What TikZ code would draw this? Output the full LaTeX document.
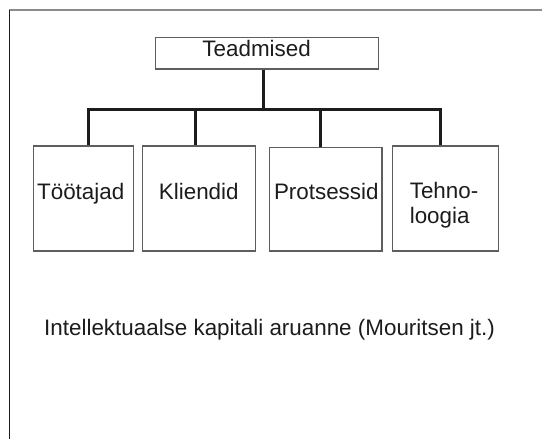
\documentclass[tikz,border=0pt]{standalone}
\usepackage{fontspec}
\setmainfont{Liberation Sans}
\definecolor{inkdark}{HTML}{1C1C1C}
\definecolor{boxline}{HTML}{5E5E5E}
\definecolor{framegray}{HTML}{8C8C8C}
\begin{document}
\begin{tikzpicture}[x=1pt,y=-1pt,
  unitbox/.style={draw=boxline,line width=1.2pt,inner sep=0pt,rectangle},
  label text/.style={inner sep=0pt,text=inkdark,font=\fontsize{22.4}{25}\selectfont},
  conn/.style={draw=inkdark,line width=3pt,line join=miter}]
  \useasboundingbox (0,0) rectangle (542,439);
  % page frame (top and left edges)
  \coordinate (fTL) at (9.3,10);
  \coordinate (fTR) at (542,10);
  \coordinate (fBL) at (9.3,439);
  \draw[framegray,line width=2pt] (fTL) -- (fTR);
  \draw[inkdark,line width=1pt] (fTL) -- (fBL);

  % boxes
  \node[unitbox,minimum width=223pt,minimum height=31.5pt] (top) at (267,53.25) {};
  \node[unitbox,minimum width=99.9pt,minimum height=105pt] (b1) at (83.15,198.5) {};
  \node[unitbox,minimum width=112.3pt,minimum height=105pt] (b2) at (198.95,198.5) {};
  \node[unitbox,minimum width=112.7pt,minimum height=103.7pt] (b3) at (325.65,199.15) {};
  \node[unitbox,minimum width=105.7pt,minimum height=105pt] (b4) at (445.55,198.5) {};

  % box texts
  \node[label text,anchor=base] (tTop) at (256.6,56.7) {Teadmised};
  \node[label text,anchor=base] (t1) at (80.7,199.3) {Töötajad};
  \node[label text,anchor=base] (t2) at (198.8,199.3) {Kliendid};
  \node[label text,anchor=base] (t3) at (326.3,199.3) {Protsessid};
  % two-line label: anchor sits on the baseline of the second line
  \node[label text,anchor=base west,align=left] (t4) at (409.6,223) {Tehno-\\loogia};

  % tree connectors
  \coordinate (hub) at (263.4,109);
  \coordinate (j1) at (88.8,109);
  \coordinate (j2) at (195.6,109);
  \coordinate (j3) at (320.8,109);
  \coordinate (j4) at (440.7,109);
  \draw[conn] (hub |- top.south) -- (hub);
  \draw[conn] (j1 |- b1.north) -- (j1) -- (j4) -- (j4 |- b4.north);
  \draw[conn] (j2) -- (j2 |- b2.north);
  \draw[conn] (j3) -- (j3 |- b3.north);

  % caption
  \node[label text,anchor=base west] (caption) at (44,335) {Intellektuaalse kapitali aruanne (Mouritsen jt.)};
\end{tikzpicture}
\end{document}
